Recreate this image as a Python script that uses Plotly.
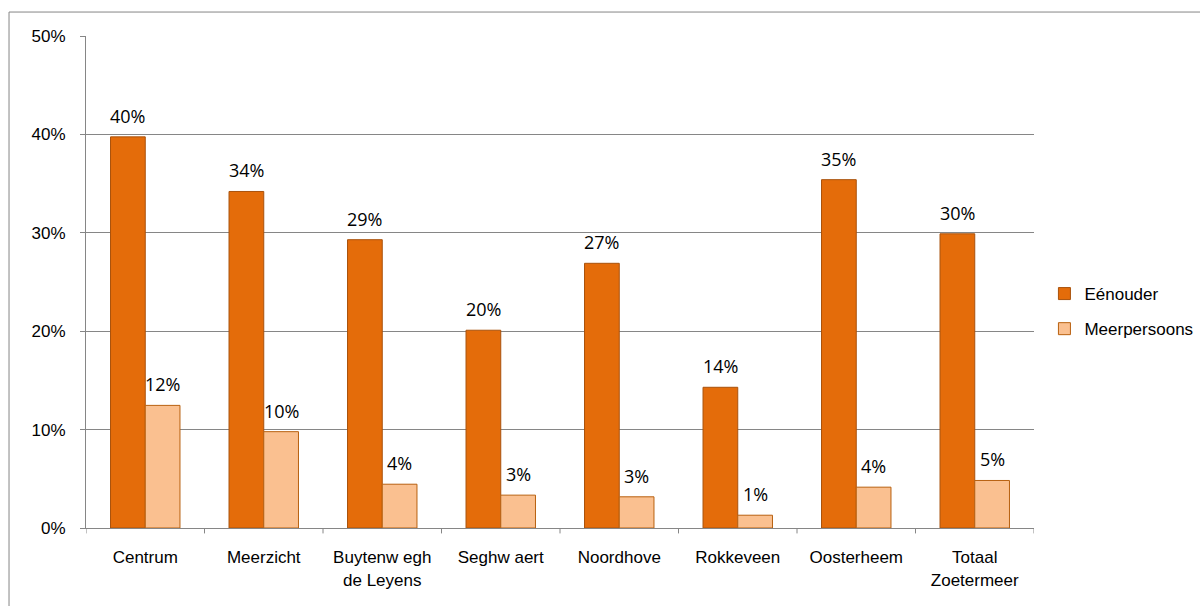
import plotly.graph_objects as go

categories = ["Centrum", "Meerzicht", "Buytenw egh<br>de Leyens", "Seghw aert",
              "Noordhove", "Rokkeveen", "Oosterheem", "Totaal<br>Zoetermeer"]
eenouder = [39.75, 34.2, 29.3, 20.1, 26.9, 14.3, 35.4, 29.9]
meerpersoons = [12.46, 9.79, 4.45, 3.34, 3.17, 1.3, 4.15, 4.83]
y_ticks = [0, 10, 20, 30, 40, 50]
y_labels = ["0%", "10%", "20%", "30%", "40%", "50%"]

BARGAP = 0.414
AX_FONT = dict(family="Liberation Sans, Arial, sans-serif", size=17, color="#000000")
LBL_FONT = dict(family="Open Sans, sans-serif", size=18, color="#000000")

fig = go.Figure()
fig.add_trace(go.Bar(x=list(range(len(categories))), y=eenouder, name="Eénouder",
                     marker=dict(color="#E46C0A", line=dict(color="#A9520C", width=1)),
                     legendgroup="a"))
fig.add_trace(go.Bar(x=list(range(len(categories))), y=meerpersoons, name="Meerpersoons",
                     marker=dict(color="#FAC090", line=dict(color="#B8600F", width=1)),
                     legendgroup="b"))

half = (1 - BARGAP) / 4
for series, off in ((eenouder, -half), (meerpersoons, half)):
    for i, v in enumerate(series):
        fig.add_annotation(x=i + off, y=v, xref="x", yref="y", text=f"{v:.0f}%",
                           showarrow=False, yanchor="bottom", xanchor="center",
                           yshift=7, font=LBL_FONT)

# outer chart frame
fig.add_shape(type="rect", xref="paper", yref="paper",
              x0=-0.0812, x1=1.3, y0=-0.3, y1=1.0487,
              line=dict(color="#868686", width=1), fillcolor="rgba(0,0,0,0)", layer="below")

fig.update_layout(
    width=1200, height=606,
    margin=dict(l=86, r=166, t=36, b=78, autoexpand=False),
    paper_bgcolor="white", plot_bgcolor="white",
    barmode="group", bargap=BARGAP, bargroupgap=0,
    showlegend=True,
    legend=dict(x=1.011, y=0.44, xanchor="left", yanchor="middle",
                font=AX_FONT, traceorder="grouped", tracegroupgap=10,
                itemwidth=30, bgcolor="rgba(0,0,0,0)"),
    xaxis=dict(tickmode="array", tickvals=list(range(len(categories))), ticktext=categories,
               range=[-0.5, len(categories) - 0.5],
               showgrid=False, showline=True, linecolor="#868686", linewidth=1,
               ticks="", tickfont=AX_FONT, ticklabelstandoff=14),
    yaxis=dict(range=[0, 50], tickvals=y_ticks, ticktext=y_labels,
               showgrid=True, gridcolor="#868686", gridwidth=1,
               showline=True, linecolor="#868686", linewidth=1,
               ticks="outside", ticklen=5, tickcolor="#868686",
               tickfont=AX_FONT, zeroline=False, ticklabelstandoff=11),
)

# category boundary tick marks on the x axis
for b in [i - 0.5 for i in range(len(categories) + 1)]:
    fig.add_shape(type="line", xref="x", yref="paper", x0=b, x1=b, y0=0, y1=-0.011,
                  line=dict(color="#868686", width=1))

fig.write_html("out.html", config={"displayModeBar": False},
               post_script="document.body.style.margin='0';document.body.style.overflow='hidden';")
